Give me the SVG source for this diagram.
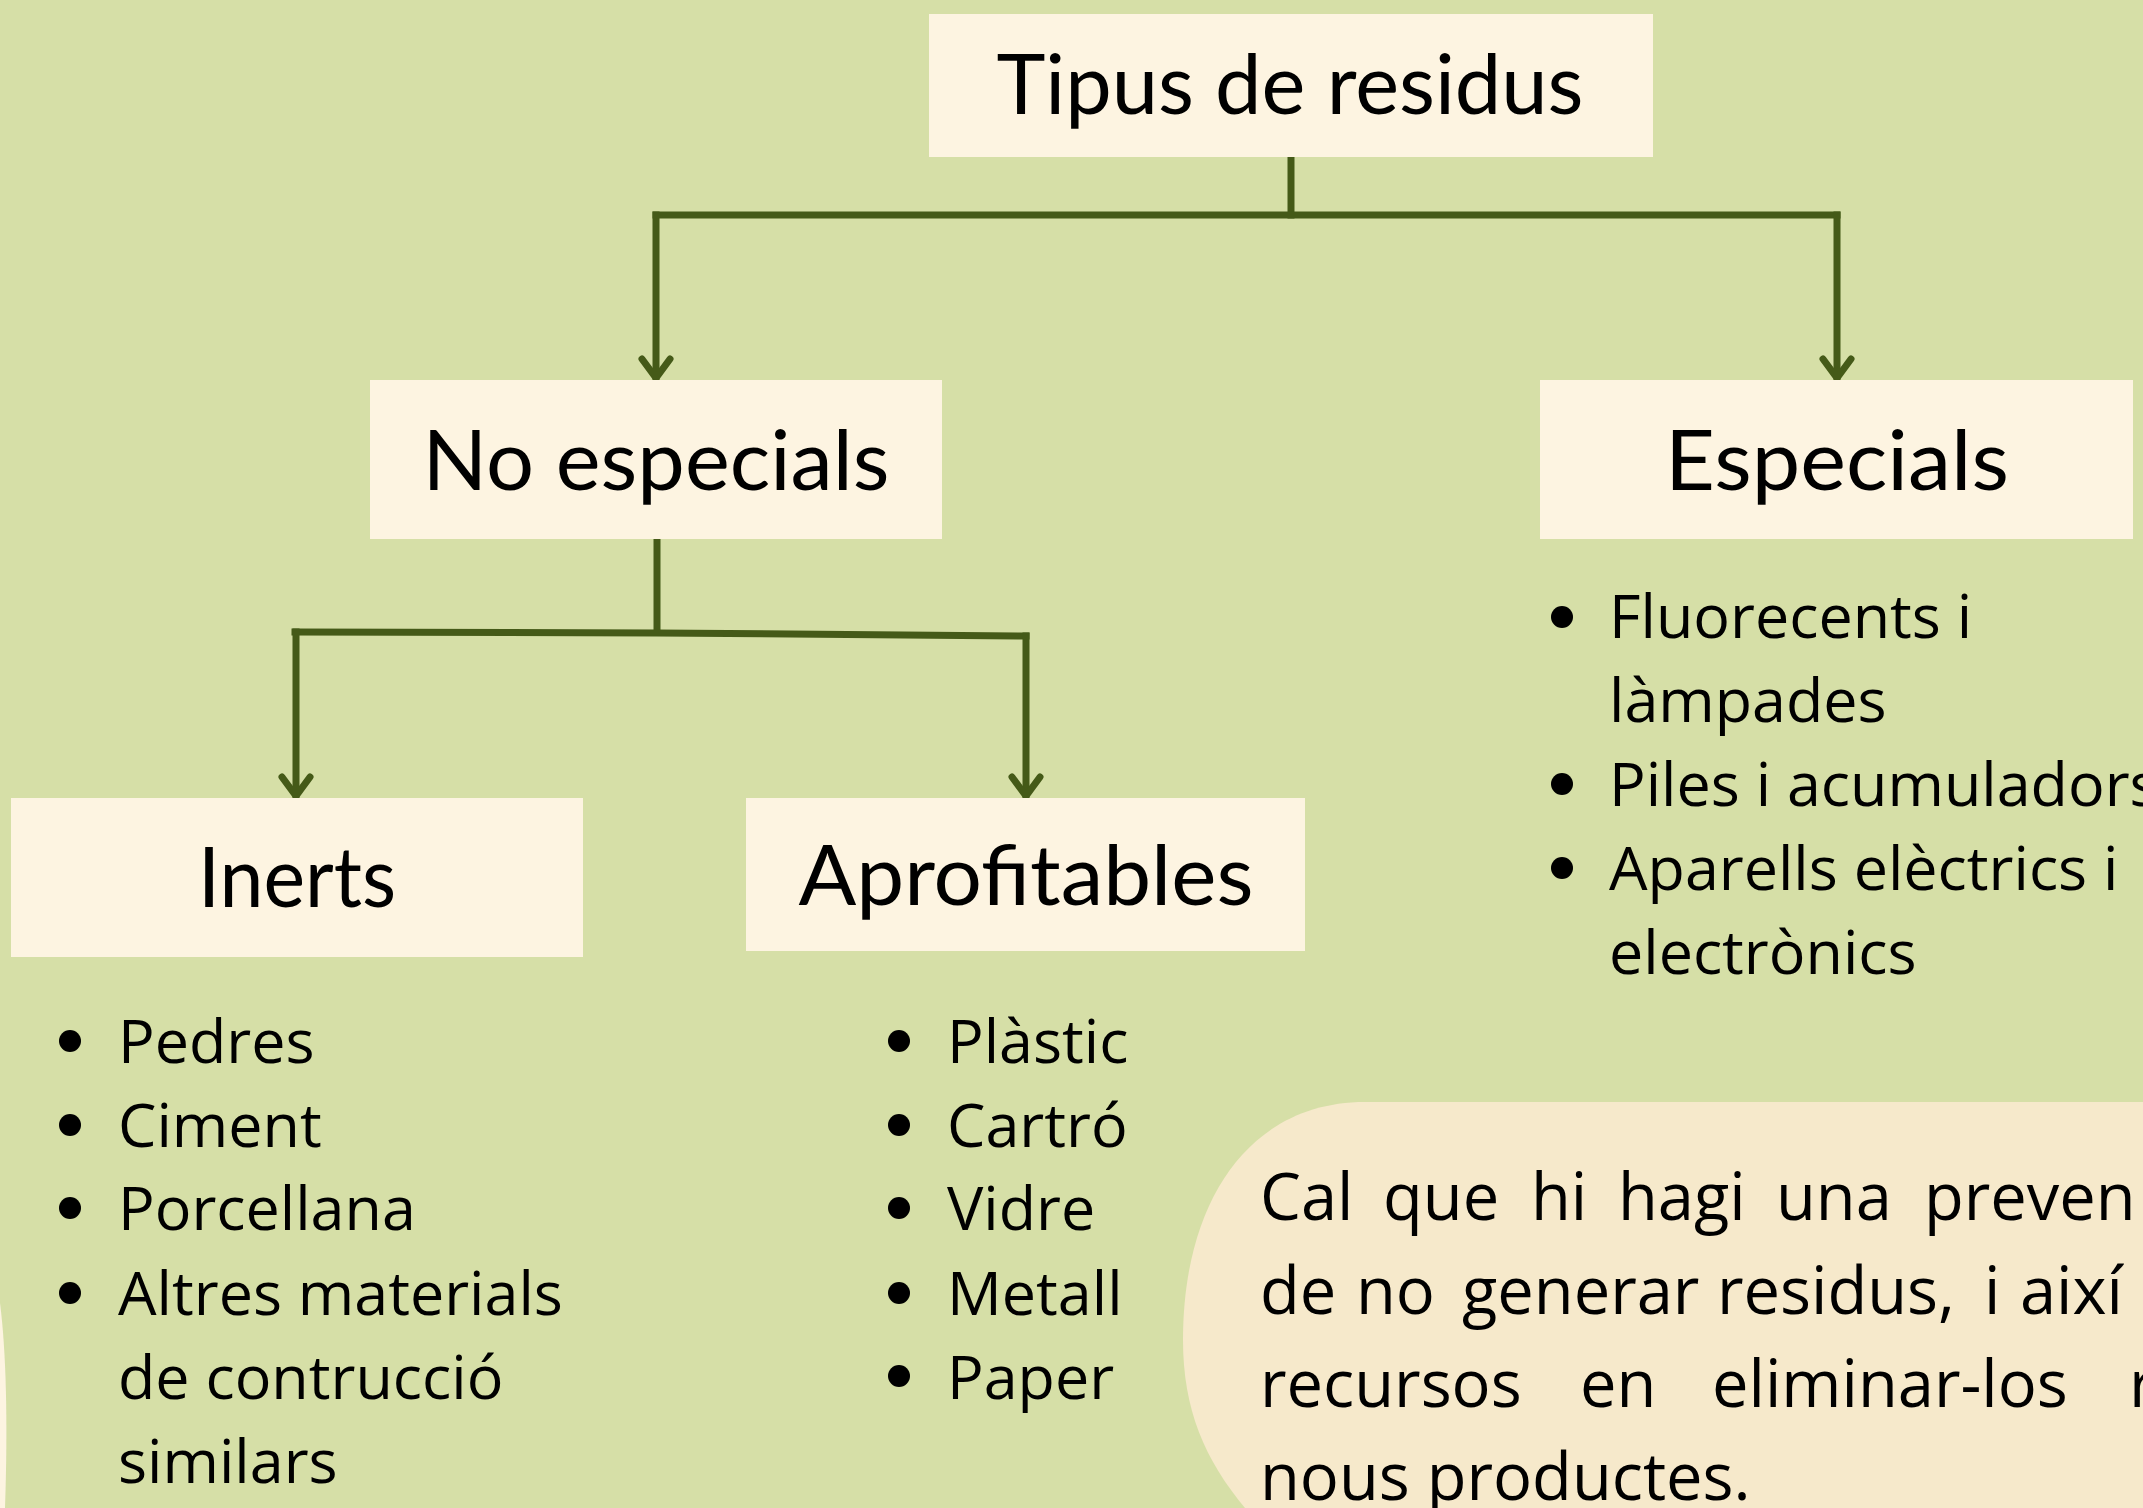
<svg xmlns="http://www.w3.org/2000/svg" width="2143" height="1508" viewBox="0 0 2143 1508">
<defs>
<style>
.bg{fill:#D6DFA7}
.box{fill:#FDF4E1}
.head{font-family:Lato,"Liberation Sans",sans-serif;font-weight:400;font-size:84px;fill:#000;text-anchor:middle}
.item{font-family:"Open Sans","Noto Sans",sans-serif;font-size:61px;fill:#000}
.note{font-family:"Open Sans","Noto Sans",sans-serif;font-size:65px;fill:#000}
.conn{fill:none;stroke:#455A18;stroke-width:7;stroke-linecap:square;stroke-linejoin:miter}
.dot{fill:#000}
</style>
<marker id="arrow" markerUnits="userSpaceOnUse" markerWidth="40" markerHeight="40" viewBox="-20 -30 40 40" refX="0" refY="0" orient="0">
<path d="M-14,-19 L0,0 L14,-19" fill="none" stroke="#455A18" stroke-width="7" stroke-linecap="round" stroke-linejoin="round"/>
</marker>
</defs>
<rect class="bg" x="0" y="0" width="2143" height="1508"/>
<path d="M0,1303 C6,1350 8,1420 5,1508 L0,1508 Z" fill="#FDF4E1"/>
<path d="M1365,1102 L2143,1102 L2143,1508 L1245,1508 C1205,1460 1183,1410 1183,1340 C1183,1200 1250,1102 1365,1102 Z" fill="#F6E9CB"/>

<g id="connectors">
<path class="conn" d="M1291,157 L1291,215"/>
<path class="conn" d="M656,215 L1837,215"/>
<path class="conn" d="M656,215 L656,378" marker-end="url(#arrow)"/>
<path class="conn" d="M1837,215 L1837,378" marker-end="url(#arrow)"/>
<path class="conn" d="M657,540 L657,632"/>
<path class="conn" d="M295,632 L657,633 L1026,636"/>
<path class="conn" d="M296,632 L296,796" marker-end="url(#arrow)"/>
<path class="conn" d="M1026,636 L1026,796" marker-end="url(#arrow)"/>
</g>

<g id="node-tipus">
<rect class="box" x="929" y="14" width="724" height="143"/>
<text class="head" x="1290" y="114" textLength="587" lengthAdjust="spacingAndGlyphs">Tipus de residus</text>
</g>
<g id="node-no-especials">
<rect class="box" x="370" y="380" width="572" height="159"/>
<text class="head" x="656" y="490" font-size="86" textLength="467" lengthAdjust="spacingAndGlyphs">No especials</text>
</g>
<g id="node-especials">
<rect class="box" x="1540" y="380" width="593" height="159"/>
<text class="head" x="1837" y="490" font-size="86" textLength="344" lengthAdjust="spacingAndGlyphs">Especials</text>
</g>
<g id="node-inerts">
<rect class="box" x="11" y="798" width="572" height="159"/>
<text class="head" x="297" y="907" font-size="86" textLength="198" lengthAdjust="spacingAndGlyphs">Inerts</text>
</g>
<g id="node-aprofitables">
<rect class="box" x="746" y="798" width="559" height="153"/>
<text class="head" x="1026" y="905" font-size="86" textLength="455" lengthAdjust="spacingAndGlyphs">Aprofitables</text>
</g>

<g id="list-especials">
<circle class="dot" cx="1562" cy="617" r="11"/>
<text class="item" x="1609" y="638">Fluorecents i</text>
<text class="item" x="1609" y="722">làmpades</text>
<circle class="dot" cx="1562" cy="784" r="11"/>
<text class="item" x="1609" y="806">Piles i acumuladors</text>
<circle class="dot" cx="1562" cy="868" r="11"/>
<text class="item" x="1609" y="890">Aparells elèctrics i</text>
<text class="item" x="1609" y="974">electrònics</text>
</g>

<g id="list-inerts">
<circle class="dot" cx="70" cy="1041" r="11"/>
<text class="item" x="118" y="1063">Pedres</text>
<circle class="dot" cx="70" cy="1125" r="11"/>
<text class="item" x="118" y="1147">Ciment</text>
<circle class="dot" cx="70" cy="1208" r="11"/>
<text class="item" x="118" y="1230">Porcellana</text>
<circle class="dot" cx="70" cy="1293" r="11"/>
<text class="item" x="118" y="1315">Altres materials</text>
<text class="item" x="118" y="1399">de contrucció</text>
<text class="item" x="118" y="1483">similars</text>
</g>

<g id="list-aprofitables">
<circle class="dot" cx="899" cy="1041" r="11"/>
<text class="item" x="947" y="1063">Plàstic</text>
<circle class="dot" cx="899" cy="1125" r="11"/>
<text class="item" x="947" y="1147">Cartró</text>
<circle class="dot" cx="899" cy="1208" r="11"/>
<text class="item" x="947" y="1230">Vidre</text>
<circle class="dot" cx="899" cy="1293" r="11"/>
<text class="item" x="947" y="1315">Metall</text>
<circle class="dot" cx="899" cy="1376" r="11"/>
<text class="item" x="947" y="1399">Paper</text>
</g>

<g id="note">
<text class="note" y="1220"><tspan x="1260">Cal</tspan><tspan x="1383">que</tspan><tspan x="1531">hi</tspan><tspan x="1618">hagi</tspan><tspan x="1776">una</tspan><tspan x="1924">preven</tspan></text>
<text class="note" y="1314"><tspan x="1260">de</tspan><tspan x="1356">no</tspan><tspan x="1462">generar</tspan><tspan x="1717">residus,</tspan><tspan x="1984">i</tspan><tspan x="2020">així</tspan></text>
<text class="note" y="1407"><tspan x="1260">recursos</tspan><tspan x="1580">en</tspan><tspan x="1712">eliminar-los</tspan><tspan x="2129">r</tspan></text>
<text class="note" x="1260" y="1500">nous productes.</text>
</g>
</svg>
